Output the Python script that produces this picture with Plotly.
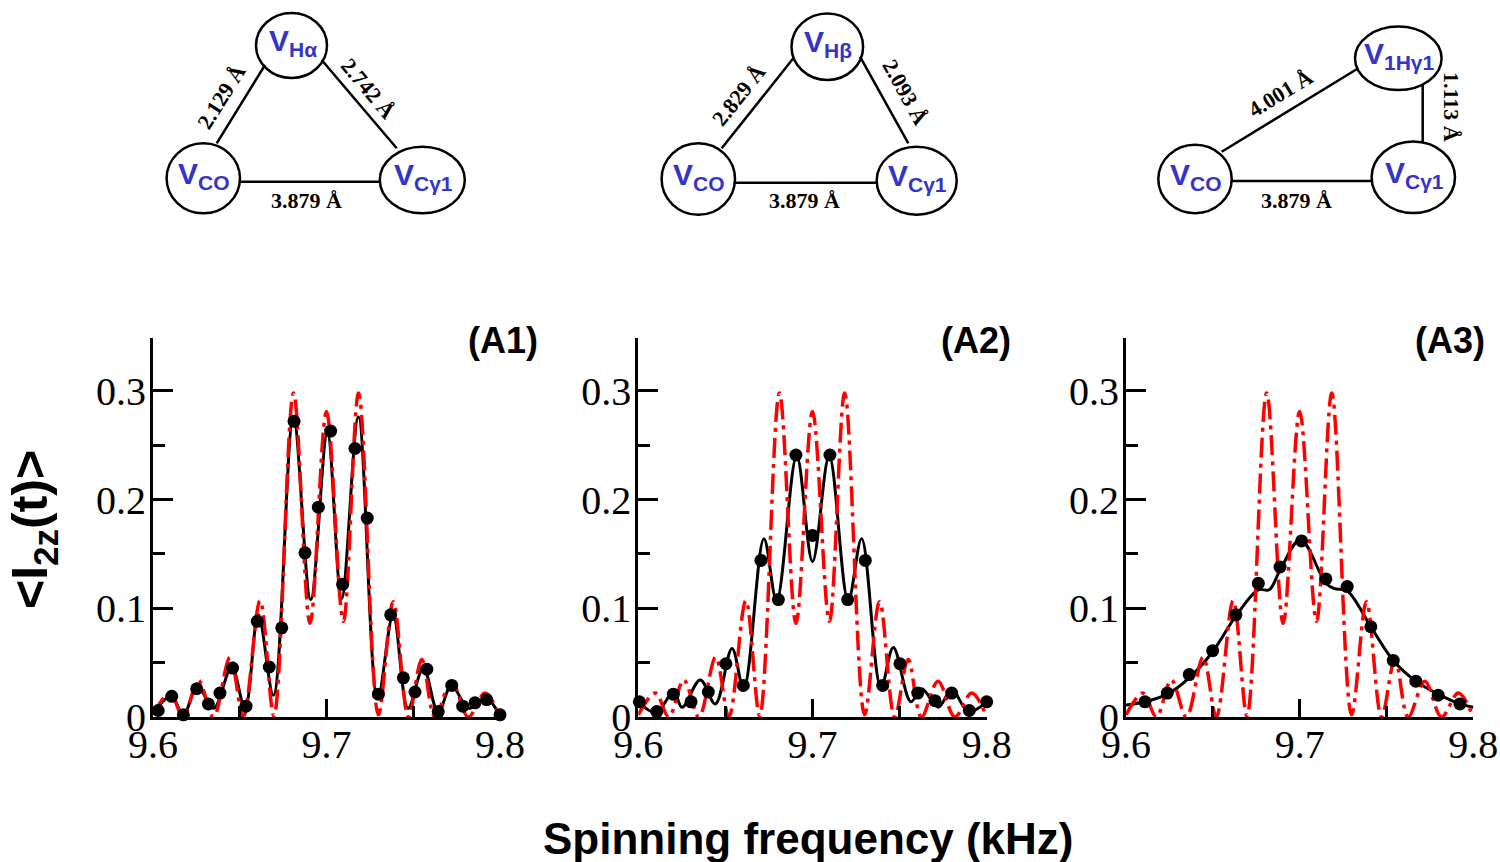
import plotly.graph_objects as go

W, H = 1500, 862

# ---------------- data ----------------
# red dashed reference curve (same in all three panels): extrema
red_x = [9.600, 9.6098, 9.6175, 9.6261, 9.6348, 9.6444, 9.6520, 9.6617, 9.6697, 9.6810,
         9.6905, 9.7000, 9.7097, 9.7185, 9.7299, 9.7385, 9.7472, 9.7549, 9.7625, 9.7721,
         9.7817, 9.7914, 9.800]
red_y = [0.002, 0.022, 0.000, 0.034, 0.000, 0.055, 0.000, 0.107, 0.001, 0.298,
         0.086, 0.281, 0.088, 0.298, 0.002, 0.106, 0.000, 0.053, 0.000, 0.033,
         0.000, 0.022, 0.000]

# panel A1 black curve + markers
a1_line_x = [9.600, 9.6105, 9.6175, 9.6256, 9.6350, 9.6453, 9.6530, 9.6607, 9.6694, 9.6809,
             9.6909, 9.7005, 9.7087, 9.7184, 9.7295, 9.7384, 9.7470, 9.7558, 9.7644, 9.7720,
             9.7820, 9.7923, 9.800]
a1_line_y = [0.003, 0.019, 0.002, 0.028, 0.008, 0.046, 0.008, 0.094, 0.020, 0.276,
             0.108, 0.261, 0.109, 0.276, 0.017, 0.094, 0.008, 0.045, 0.004, 0.029,
             0.008, 0.017, 0.000]
a1_pts_x = [9.6030, 9.6108, 9.6175, 9.6252, 9.6319, 9.6386, 9.6459, 9.6536, 9.6601, 9.6670,
            9.6742, 9.6813, 9.6876, 9.6953, 9.7024, 9.7093, 9.7164, 9.7235, 9.7299, 9.7370,
            9.7443, 9.7510, 9.7578, 9.7644, 9.7722, 9.7785, 9.7856, 9.7923, 9.8000]
a1_pts_y = [0.006, 0.019, 0.002, 0.026, 0.012, 0.022, 0.045, 0.010, 0.088, 0.046,
            0.082, 0.272, 0.151, 0.193, 0.263, 0.122, 0.247, 0.183, 0.021, 0.094,
            0.036, 0.023, 0.044, 0.005, 0.029, 0.010, 0.013, 0.016, 0.002]

# panel A2
a2_line_x = [9.600, 9.6102, 9.6203, 9.6251, 9.6356, 9.6442, 9.6538, 9.6605, 9.6721, 9.6794,
             9.6909, 9.7000, 9.7096, 9.7205, 9.7282, 9.7393, 9.7464, 9.7565, 9.7627, 9.7722,
             9.7799, 9.7895, 9.800]
a2_line_y = [0.014, 0.004, 0.023, 0.009, 0.034, 0.012, 0.063, 0.026, 0.164, 0.107,
             0.240, 0.143, 0.240, 0.107, 0.164, 0.027, 0.064, 0.014, 0.026, 0.009,
             0.025, 0.005, 0.014]
a2_pts_x = [9.6006, 9.6106, 9.6201, 9.6303, 9.6402, 9.6503, 9.6603, 9.6704, 9.6804, 9.6905,
            9.7000, 9.7100, 9.7202, 9.7303, 9.7403, 9.7502, 9.7604, 9.7703, 9.7799, 9.7900,
            9.8000]
a2_pts_y = [0.014, 0.005, 0.021, 0.014, 0.023, 0.049, 0.029, 0.144, 0.108, 0.241,
            0.167, 0.241, 0.108, 0.144, 0.029, 0.049, 0.022, 0.015, 0.022, 0.006,
            0.014]

# panel A3
a3_line_x = [9.600, 9.6109, 9.6238, 9.6364, 9.6499, 9.6633, 9.6762, 9.6825, 9.6887, 9.7005,
             9.7151, 9.7200, 9.7274, 9.7410, 9.7539, 9.7669, 9.7798, 9.7923, 9.800]
a3_line_y = [0.011, 0.014, 0.021, 0.036, 0.060, 0.093, 0.117, 0.117, 0.135, 0.163,
             0.123, 0.118, 0.116, 0.083, 0.052, 0.033, 0.021, 0.012, 0.009]
a3_pts_x = [9.6109, 9.6238, 9.6364, 9.6499, 9.6633, 9.6762, 9.6887, 9.7011, 9.7151, 9.7274,
            9.7410, 9.7539, 9.7669, 9.7798, 9.7923]
a3_pts_y = [0.014, 0.022, 0.039, 0.061, 0.094, 0.123, 0.138, 0.162, 0.127, 0.120,
            0.083, 0.052, 0.033, 0.020, 0.012]

panel_labels = ["(A1)", "(A2)", "(A3)"]
x_title = "Spinning frequency (kHz)"
y_title = "&lt;I<sub>2z</sub>(t)&gt;"

# triangle diagrams: node subscripts and distance labels
diag_nodes = [["Hα", "CO", "Cγ1"], ["Hβ", "CO", "Cγ1"], ["1Hγ1", "CO", "Cγ1"]]
diag_dists = [["2.129 Å", "2.742 Å", "3.879 Å"],
              ["2.829 Å", "2.093 Å", "3.879 Å"],
              ["4.001 Å", "1.113 Å", "3.879 Å"]]

# ---------------- layout geometry (pixels, in the picture) ----------------
x_doms_px = [(153, 500), (638.3, 986.7), (1126, 1473.3)]
y_dom_px = (337.6, 717)


def px(x):
    return x / W


def py(y):
    return 1 - y / H


fig = go.Figure()

RED = "#ff0000"
series = [(a1_line_x, a1_line_y, a1_pts_x, a1_pts_y),
          (a2_line_x, a2_line_y, a2_pts_x, a2_pts_y),
          (a3_line_x, a3_line_y, a3_pts_x, a3_pts_y)]

for i, (lx, ly, mx, my) in enumerate(series):
    xa = "x" if i == 0 else f"x{i+1}"
    ya = "y" if i == 0 else f"y{i+1}"
    fig.add_trace(go.Scatter(x=lx, y=ly, mode="lines", xaxis=xa, yaxis=ya,
                             line=dict(color="black", width=3, shape="spline", smoothing=1.0),
                             hoverinfo="skip"))
    fig.add_trace(go.Scatter(x=red_x, y=red_y, mode="lines", xaxis=xa, yaxis=ya,
                             line=dict(color=RED, width=3.5, shape="spline", smoothing=1.0,
                                       dash="20px,6px,4px,6px"),
                             hoverinfo="skip"))
    fig.add_trace(go.Scatter(x=mx, y=my, mode="markers", xaxis=xa, yaxis=ya,
                             marker=dict(color="black", size=13, line=dict(width=0)),
                             cliponaxis=False, hoverinfo="skip"))

tickfont = dict(family="Liberation Serif, Times New Roman, serif", size=40, color="black")
layout = dict(width=W, height=H, autosize=False,
              margin=dict(l=0, r=0, t=0, b=0, pad=0, autoexpand=False),
              paper_bgcolor="white", plot_bgcolor="white", showlegend=False,
              hovermode=False)

for i, (x0, x1) in enumerate(x_doms_px):
    sfx = "" if i == 0 else str(i + 1)
    layout["xaxis" + sfx] = dict(
        domain=[px(x0), px(x1)], range=[9.6, 9.8], anchor="y" + sfx, automargin=False,
        showline=True, linecolor="black", linewidth=3,
        ticks="inside", ticklen=18, tickwidth=3, tickcolor="black",
        tick0=9.6, dtick=0.1, ticklabelstandoff=-10,
        minor=dict(ticks="inside", dtick=0.05, tick0=9.6, ticklen=11, tickwidth=3,
                   tickcolor="black", showgrid=False),
        tickfont=tickfont, showgrid=False, zeroline=False, fixedrange=True)
    layout["yaxis" + sfx] = dict(
        domain=[py(y_dom_px[1]), py(y_dom_px[0])], range=[0, 0.349], anchor="x" + sfx,
        automargin=False,
        showline=True, linecolor="black", linewidth=3,
        ticks="inside", ticklen=20, tickwidth=3, tickcolor="black",
        tick0=0, dtick=0.1, ticklabelstandoff=-4,
        minor=dict(ticks="inside", dtick=0.05, tick0=0, ticklen=12, tickwidth=3,
                   tickcolor="black", showgrid=False),
        tickfont=tickfont, showgrid=False, zeroline=False, fixedrange=True)

fig.update_layout(**layout)

annotations = []
shapes = []

sans_bold = dict(family="Liberation Sans, Arial, sans-serif", color="black", weight="bold")

# panel labels
for lab, cx in zip(panel_labels, [503, 976, 1450]):
    annotations.append(dict(text=lab, x=px(cx), y=py(340), xref="paper", yref="paper",
                            showarrow=False, xanchor="center", yanchor="middle",
                            font=dict(size=36, **sans_bold)))

# axis titles
annotations.append(dict(text=x_title, x=px(808), y=py(838), xref="paper", yref="paper",
                        showarrow=False, xanchor="center", yanchor="middle",
                        font=dict(size=44, **sans_bold)))
annotations.append(dict(text=y_title, x=px(33), y=py(530), xref="paper", yref="paper",
                        showarrow=False, xanchor="center", yanchor="middle", textangle=-90,
                        font=dict(size=50, **sans_bold)))

# ---------------- triangle diagrams ----------------
BLUE = "#3434c8"
# node ellipses: (cx, cy, rx, ry) per diagram, order: top, CO, Cγ1
node_geom = [
    [(291.5, 45.5, 35.5, 32.5), (203.3, 178.3, 36.7, 35.0), (422.3, 180.0, 42.5, 33.3)],
    [(827.3, 46.7, 35.8, 33.3), (698.3, 179.0, 36.7, 35.8), (916.7, 180.7, 40.0, 34.0)],
    [(1398.3, 58.3, 43.3, 31.7), (1195.0, 179.0, 36.7, 34.2), (1413.3, 177.3, 41.7, 35.8)],
]
edge_geom = [
    [((216.7, 143.3), (265.0, 65.0)), ((321.7, 60.0), (396.7, 148.3)), ((239.3, 181.7), (380.7, 181.7))],
    [((721.7, 148.3), (793.3, 58.3)), ((860.0, 56.7), (908.3, 143.3)), ((735.0, 182.7), (876.7, 182.7))],
    [((1221.7, 151.7), (1358.3, 68.3)), ((1422.7, 85.0), (1422.7, 143.3)), ((1231.7, 181.0), (1371.7, 181.0))],
]
label_geom = [
    [(221.7, 96.7, -58), (368.3, 88.3, 50), (306.7, 200.0, 0)],
    [(738.3, 95.0, -51.5), (905.0, 91.7, 61), (805.0, 200.0, 0)],
    [(1280.0, 93.3, -31.4), (1451.7, 106.7, 90), (1296.7, 200.0, 0)],
]

for d in range(3):
    for (cx, cy, rx, ry), sub in zip(node_geom[d], diag_nodes[d]):
        shapes.append(dict(type="circle", xref="paper", yref="paper",
                           x0=px(cx - rx), x1=px(cx + rx), y0=py(cy + ry), y1=py(cy - ry),
                           line=dict(color="black", width=2.5), fillcolor="white", layer="below"))
        annotations.append(dict(text=f"V<sub>{sub}</sub>", x=px(cx + 1), y=py(cy - 3),
                                xref="paper", yref="paper", showarrow=False,
                                xanchor="center", yanchor="middle",
                                font=dict(family="Liberation Sans, Arial, sans-serif",
                                          size=30, color=BLUE, weight="bold")))
    for (p0, p1) in edge_geom[d]:
        shapes.append(dict(type="line", xref="paper", yref="paper",
                           x0=px(p0[0]), y0=py(p0[1]), x1=px(p1[0]), y1=py(p1[1]),
                           line=dict(color="black", width=2.5), layer="below"))
    for (lx, ly, ang), txt in zip(label_geom[d], diag_dists[d]):
        annotations.append(dict(text=txt, x=px(lx), y=py(ly), xref="paper", yref="paper",
                                showarrow=False, xanchor="center", yanchor="middle",
                                textangle=ang,
                                font=dict(family="Liberation Serif, Times New Roman, serif",
                                          size=22, color="black", weight="bold")))

fig.update_layout(annotations=annotations, shapes=shapes)

# remove the default page margin so the 1500x862 figure fills the window exactly
fig.write_html("out.html",
               config={"displayModeBar": False, "staticPlot": True},
               post_script="document.body.style.margin='0';document.body.style.overflow='hidden';")
